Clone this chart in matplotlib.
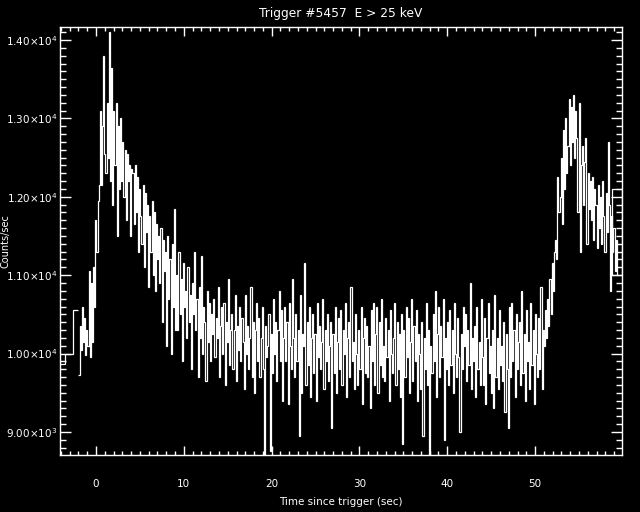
import numpy as np
import matplotlib
matplotlib.use("Agg")
import matplotlib.pyplot as plt
from matplotlib.ticker import MultipleLocator, FixedLocator, FixedFormatter

# fine-resolution light curve, 0.128 s bins starting at t = -2.0 s (counts/sec)
t_start = -2.0
bin_width = 0.128
counts = [
    9720, 10350, 10050, 10600, 10150, 10450, 9980, 10300,
    10100, 11050, 9950, 10900, 10150, 11100, 10600, 11700,
    11300, 11950, 12150, 13100, 12150, 12900, 13800, 12550,
    12300, 13200, 12500, 14100, 12200, 13650, 11900, 13100,
    12400, 13200, 11500, 12900, 12100, 13000, 12200, 12700,
    12000, 12600, 11700, 12550, 12200, 12400, 11500, 12350,
    12300, 11650, 12400, 11800, 12250, 11300, 12100, 11750,
    11400, 12150, 11100, 12050, 11550, 11900, 10850, 11750,
    11300, 11950, 11000, 11800, 10800, 11650, 11200, 11500,
    10900, 11600, 10400, 11450, 11050, 11300, 10100, 11500,
    10700, 11200, 10000, 11400, 10600, 11850, 10300, 11000,
    10300, 11300, 10500, 10950, 9900, 11150, 10600, 10800,
    10200, 11100, 10400, 10750, 9800, 10900, 10500, 11300,
    10300, 10700, 9700, 10850, 10200, 11250, 10000, 10600,
    10400, 9650, 10800, 10150, 10650, 9900, 10500, 10250,
    10700, 9950, 10450, 10200, 10850, 9700, 10350, 10600,
    10000, 10650, 9600, 10400, 10150, 10950, 9850, 10300,
    10500, 9800, 10300, 10750, 9650, 10350, 10050, 10600,
    9900, 10450, 10150, 9550, 10750, 10000, 10350, 9800,
    10200, 10850, 9700, 10400, 9500, 10300, 10650, 9900,
    10450, 9700, 10200, 10600, 9800, 8700, 10350, 9950,
    10100, 10500, 8750, 10250, 9750, 10700, 10000, 10400,
    9650, 10300, 10800, 9900, 10550, 9400, 10200, 10600,
    9900, 10400, 9350, 10650, 10100, 9800, 10950, 10200,
    9700, 10500, 9900, 10300, 8950, 10750, 9500, 10250,
    10100, 11150, 9600, 10400, 9850, 10600, 9450, 10200,
    10500, 9750, 10250, 9400, 10650, 9950, 10350, 9800,
    10150, 10700, 9550, 10300, 9900, 10500, 9650, 10100,
    10400, 9050, 10250, 9750, 10600, 9500, 10150, 10450,
    9800, 10550, 9600, 10300, 10000, 10650, 9450, 10200,
    10400, 9700, 10850, 9900, 10150, 9550, 10500, 10000,
    9600, 10300, 9800, 10600, 9350, 10200, 10450, 9750,
    10350, 9700, 10100, 9300, 10550, 9900, 10650, 9600,
    10250, 10600, 9500, 10400, 9850, 10700, 9700, 10100,
    9650, 10450, 9950, 10300, 9400, 10550, 10000, 9750,
    10200, 10650, 9600, 10400, 9800, 10250, 9450, 10500,
    8850, 10300, 9700, 10600, 9950, 10450, 9500, 10150,
    10700, 9650, 10350, 9900, 10550, 9400, 10250, 10000,
    9550, 10400, 8950, 10200, 9800, 10650, 9600, 10300,
    8650, 10100, 9750, 10500, 9900, 10800, 9450, 10250,
    10600, 9700, 10350, 9950, 10700, 8900, 10200, 9800,
    10400, 9600, 10550, 9850, 10300, 9500, 10650, 10000,
    9700, 10450, 9950, 9000, 10250, 9800, 10600, 10100,
    10500, 9650, 10300, 9850, 10900, 9550, 10200, 9900,
    10350, 9450, 10600, 9800, 10150, 9600, 10700, 9950,
    9600, 10450, 9350, 10200, 10650, 9750, 10100, 9500,
    10300, 9300, 10750, 9700, 10200, 9550, 10550, 9850,
    10100, 9650, 10400, 9250, 10250, 9800, 9050, 10600,
    9700, 10650, 9900, 10300, 9450, 10500, 9800, 10150,
    10400, 9600, 10800, 9750, 10250, 9400, 10550, 9900,
    10150, 9550, 10650, 9850, 10300, 9350, 10500, 10000,
    9700, 10450, 9800, 10850, 9550, 10300, 10100, 10550,
    10200, 10700, 10350, 10950, 10500, 11150, 10800, 11300,
    11450, 11200, 12250, 11800, 12000, 12500, 11650, 12850,
    12100, 13000, 12300, 12650, 13250, 12400, 13150, 12700,
    13300, 12500, 13100, 12750, 11800, 13200, 11300, 12400,
    12650, 11900, 12450, 12750, 11400, 12300, 11850, 12200,
    11700, 12250, 11450, 12100, 11900, 11350, 12150, 11600,
    12000, 11400, 12200, 11750, 11300, 12050, 11550, 12700,
    11900, 10800, 11750, 11300, 11600, 11050, 11450, 11000,
]

# coarse pre-trigger bins and coarse bin at the end
pre_edges = [-4.35, -3.50, -2.58, -2.00]
pre_counts = [9870, 10000, 10550]
tail_edges = [58.72, 59.85]
tail_hi = [12100]
tail_lo = [11000]

yticks = [9000, 10000, 11000, 12000, 13000, 14000]
ylabels = [r"9.00$\times$10$^{3}$", r"1.00$\times$10$^{4}$", r"1.10$\times$10$^{4}$",
           r"1.20$\times$10$^{4}$", r"1.30$\times$10$^{4}$", r"1.40$\times$10$^{4}$"]

plt.rcParams["mathtext.default"] = "regular"
plt.rcParams["font.family"] = "DejaVu Sans"

fig = plt.figure(figsize=(6.4, 5.12), dpi=100, facecolor="black")
ax = fig.add_axes([60 / 640, 57 / 512, 562 / 640, 428 / 512], facecolor="black")

edges = t_start + bin_width * np.arange(len(counts) + 1)
lw = 0.9
ax.stairs(pre_counts, pre_edges, baseline=None, color="white", lw=lw)
ax.stairs(counts, edges, baseline=None, color="white", lw=lw)
ax.stairs(tail_hi, tail_edges, baseline=tail_lo[0], color="white", lw=lw)
ax.stairs(tail_lo, tail_edges, baseline=None, color="white", lw=lw)

ax.set_xlim(-4.1, 59.9)
ax.set_ylim(8705, 14167)

ax.xaxis.set_major_locator(MultipleLocator(10))
ax.xaxis.set_minor_locator(MultipleLocator(1))
ax.yaxis.set_major_locator(FixedLocator(yticks))
ax.yaxis.set_major_formatter(FixedFormatter(ylabels))
ax.yaxis.set_minor_locator(MultipleLocator(100))

for s in ax.spines.values():
    s.set_color("white")
    s.set_linewidth(1.0)

ax.tick_params(axis="both", which="both", direction="in", colors="white",
               top=True, right=True, labelsize=7.5, width=1.0)
ax.tick_params(axis="x", which="major", length=6.5, pad=17)
ax.tick_params(axis="x", which="minor", length=3.2)
ax.tick_params(axis="y", which="major", length=8, pad=2)
ax.tick_params(axis="y", which="minor", length=4)

ax.set_title("Trigger #5457  E > 25 keV", color="white", fontsize=8.8, pad=7)
ax.set_xlabel("Time since trigger (sec)", color="white", fontsize=7.5, labelpad=6)
fig.text(1 / 640, 0.53, "Counts/sec", rotation=90, color="white", fontsize=7,
         ha="left", va="center")

fig.savefig("out.png", dpi=100, facecolor="black")
